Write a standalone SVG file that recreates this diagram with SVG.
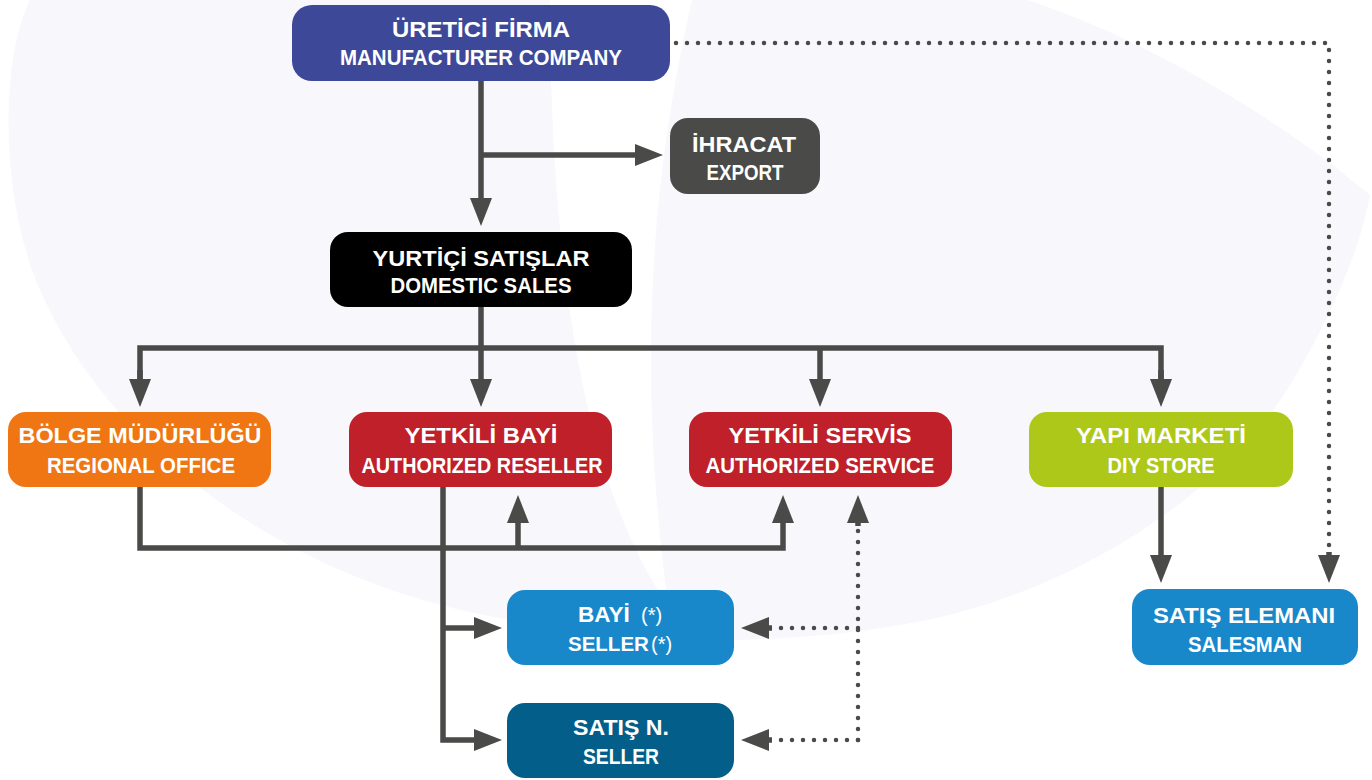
<svg xmlns="http://www.w3.org/2000/svg" width="1372" height="780" viewBox="0 0 1372 780">
  <defs>
    <style>
      .box text { font-family: "Liberation Sans", Arial, sans-serif; font-size: 22.5px; font-weight: bold; fill: #ffffff; }
      .box .lt { font-weight: normal; font-size: 20px; }
      .box .sm { font-size: 20.5px; }
      .solid { fill: none; stroke: #4a4a48; stroke-width: 5.5; stroke-linejoin: miter; }
      .dots { fill: none; stroke: #4a4a48; stroke-width: 4.5; stroke-linecap: round; stroke-dasharray: 0 11; }
    </style>
    <marker id="arrow" markerUnits="userSpaceOnUse" markerWidth="28" markerHeight="22" refX="0" refY="11" orient="auto">
      <path d="M0,0 L28,11 L0,22 Z" fill="#4a4a48"/>
    </marker>
  </defs>

  <!-- background swoosh -->
  <rect x="0" y="0" width="1372" height="780" fill="#ffffff"/>
  <path d="M30,0 C0,60 0,200 40,290 C110,450 280,570 470,612 C620,645 760,648 900,625 C1060,600 1220,500 1290,385 C1330,320 1360,250 1370,195 C1280,120 1150,40 1027,0 Z" fill="#f7f7fc"/>
  <path d="M550,0 C550,250 580,480 668,605 C648,450 635,250 692,0 Z" fill="#ffffff"/>

  <!-- connectors -->
  <g id="connectors">
    <path class="solid" d="M481,81 V198" marker-end="url(#arrow)"/>
    <path class="solid" d="M481,155 H635" marker-end="url(#arrow)"/>
    <path class="solid" d="M481,307 V379" marker-end="url(#arrow)"/>
    <path class="solid" d="M140,380 V348 H1161 V380"/>
    <path class="solid" d="M140,370 V379" marker-end="url(#arrow)"/>
    <path class="solid" d="M820,348 V379" marker-end="url(#arrow)"/>
    <path class="solid" d="M1161,370 V379" marker-end="url(#arrow)"/>
    <path class="solid" d="M140,487 V548 H783 V523" marker-end="url(#arrow)"/>
    <path class="solid" d="M518,548 V523" marker-end="url(#arrow)"/>
    <path class="solid" d="M443,487 V740 H474" marker-end="url(#arrow)"/>
    <path class="solid" d="M443,628 H474" marker-end="url(#arrow)"/>
    <path class="solid" d="M1161,487 V555" marker-end="url(#arrow)"/>
    <path class="dots" d="M676,43 H1329 V546"/>
    <path class="solid" d="M1329,552 V555" stroke-width="0" marker-end="url(#arrow)"/>
    <path class="dots" d="M858,740 V530"/>
    <path class="solid" d="M858,526 V523" stroke-width="0" marker-end="url(#arrow)"/>
    <path class="dots" d="M858,628 H775"/>
    <path class="solid" d="M772,628 H769" stroke-width="0" marker-end="url(#arrow)"/>
    <path class="dots" d="M858,740 H775"/>
    <path class="solid" d="M772,740 H769" stroke-width="0" marker-end="url(#arrow)"/>
  </g>

  <!-- nodes -->
  <g id="manufacturer" class="box">
    <rect x="292" y="5" width="378" height="76" rx="20" fill="#3d4899"/>
    <text x="481" y="37" text-anchor="middle" textLength="178" lengthAdjust="spacingAndGlyphs">ÜRETİCİ FİRMA</text>
    <text x="481" y="65" text-anchor="middle" textLength="282" lengthAdjust="spacingAndGlyphs">MANUFACTURER COMPANY</text>
  </g>
  <g id="export" class="box">
    <rect x="670" y="118" width="150" height="76" rx="18" fill="#4a4a48"/>
    <text x="744" y="152" text-anchor="middle" textLength="104" lengthAdjust="spacingAndGlyphs">İHRACAT</text>
    <text x="745" y="180" text-anchor="middle" textLength="77" lengthAdjust="spacingAndGlyphs">EXPORT</text>
  </g>
  <g id="domestic-sales" class="box">
    <rect x="330" y="232" width="302" height="75" rx="18" fill="#000000"/>
    <text x="481" y="266" text-anchor="middle" textLength="217" lengthAdjust="spacingAndGlyphs">YURTİÇİ SATIŞLAR</text>
    <text x="481" y="293" text-anchor="middle" textLength="181" lengthAdjust="spacingAndGlyphs">DOMESTIC SALES</text>
  </g>
  <g id="regional-office" class="box">
    <rect x="8" y="412" width="263" height="75" rx="18" fill="#ef7613"/>
    <text x="140" y="443" text-anchor="middle" textLength="243" lengthAdjust="spacingAndGlyphs">BÖLGE MÜDÜRLÜĞÜ</text>
    <text x="141" y="473" text-anchor="middle" textLength="188" lengthAdjust="spacingAndGlyphs">REGIONAL OFFICE</text>
  </g>
  <g id="authorized-reseller" class="box">
    <rect x="349" y="412" width="263" height="75" rx="18" fill="#bf202a"/>
    <text x="481" y="443" text-anchor="middle" textLength="153" lengthAdjust="spacingAndGlyphs">YETKİLİ BAYİ</text>
    <text x="482" y="473" text-anchor="middle" textLength="241" lengthAdjust="spacingAndGlyphs">AUTHORIZED RESELLER</text>
  </g>
  <g id="authorized-service" class="box">
    <rect x="689" y="412" width="263" height="75" rx="18" fill="#bf202a"/>
    <text x="820" y="443" text-anchor="middle" textLength="183" lengthAdjust="spacingAndGlyphs">YETKİLİ SERVİS</text>
    <text x="820" y="473" text-anchor="middle" textLength="229" lengthAdjust="spacingAndGlyphs">AUTHORIZED SERVICE</text>
  </g>
  <g id="diy-store" class="box">
    <rect x="1029" y="412" width="264" height="75" rx="18" fill="#adc818"/>
    <text x="1161" y="443" text-anchor="middle" textLength="170" lengthAdjust="spacingAndGlyphs">YAPI MARKETİ</text>
    <text x="1161" y="473" text-anchor="middle" textLength="107" lengthAdjust="spacingAndGlyphs">DIY STORE</text>
  </g>
  <g id="seller" class="box">
    <rect x="507" y="590" width="227" height="75" rx="18" fill="#1888cb"/>
    <text y="622"><tspan x="578">BAYİ</tspan><tspan x="641" class="lt">(*)</tspan></text>
    <text y="651"><tspan x="568" class="sm">SELLER</tspan><tspan x="651" class="lt">(*)</tspan></text>
  </g>
  <g id="sales-point" class="box">
    <rect x="507" y="703" width="227" height="75" rx="18" fill="#035f89"/>
    <text x="621" y="735" text-anchor="middle" textLength="96" lengthAdjust="spacingAndGlyphs">SATIŞ N.</text>
    <text x="621" y="764" text-anchor="middle" textLength="76" lengthAdjust="spacingAndGlyphs">SELLER</text>
  </g>
  <g id="salesman" class="box">
    <rect x="1132" y="589" width="226" height="76" rx="18" fill="#1888cb"/>
    <text x="1244" y="623" text-anchor="middle" textLength="182" lengthAdjust="spacingAndGlyphs">SATIŞ ELEMANI</text>
    <text x="1245" y="652" text-anchor="middle" textLength="114" lengthAdjust="spacingAndGlyphs">SALESMAN</text>
  </g>
</svg>
